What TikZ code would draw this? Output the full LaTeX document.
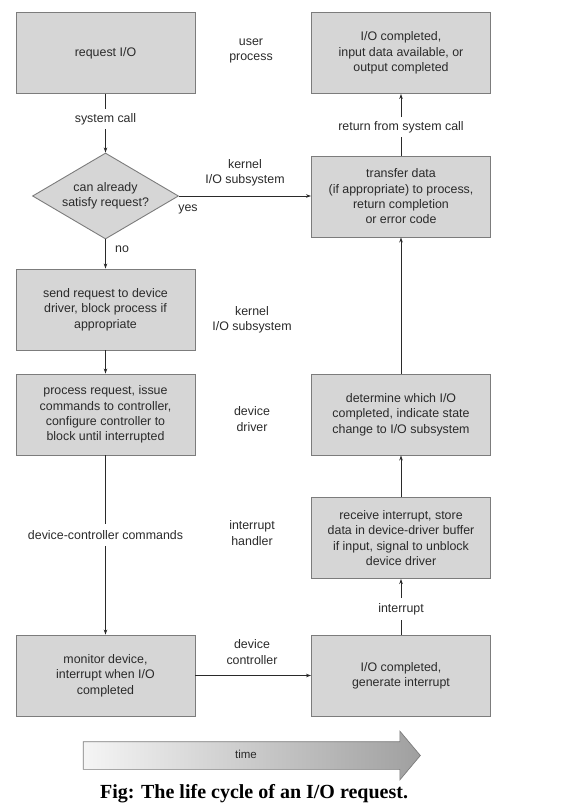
\documentclass[tikz,border=0pt]{standalone}
\usepackage{fontspec}
\setmainfont{Liberation Sans}
\newfontfamily\capfont{Liberation Serif}
\usepackage{tikz}
\usetikzlibrary{positioning,arrows.meta,shapes.geometric,shapes.arrows}
\definecolor{boxcolor}{HTML}{D6D6D6}
\definecolor{edgecolor}{HTML}{7C7C7C}
\definecolor{inkcolor}{HTML}{2A2A2A}

\begin{document}
\begin{tikzpicture}[x=1pt, y=-1pt,
    every node/.style={font=\fontsize{12.4}{15.3}\selectfont, text=inkcolor},
    stagebox/.style={draw=edgecolor, fill=boxcolor, line width=0.9pt, minimum width=179pt, minimum height=81pt, align=center, inner sep=2pt},
    cutlabel/.style={inner xsep=2pt, inner ysep=4pt, align=center},
    layerlabel/.style={align=center, inner sep=1pt},
    flow/.style={draw=inkcolor, line width=0.8pt, -{Stealth[length=5pt,width=3.5pt]}},
    plain/.style={draw=inkcolor, line width=0.8pt}]
    \useasboundingbox (0,0) rectangle (584,810);

    % Left column: request path
    \node[stagebox] (req) at (105.5,53) {request I/O};
    \node[cutlabel] (syscall) at (105.5,119) {system call};
    \node[draw=edgecolor, fill=boxcolor, line width=0.9pt, diamond, aspect=1.7, inner sep=0pt,
          minimum width=146pt, minimum height=86pt, align=center] (check) at (105.5,196)
          {can already\\satisfy request?};
    \node[inner sep=1pt] (yes) at (188,209) {yes};
    \node[inner sep=1pt] (no) at (122,249) {no};
    \node[stagebox] (send) at (105.5,309.5) {send request to device\\driver, block process if\\appropriate};
    \node[stagebox] (proc) at (105.5,414.5) {process request, issue\\commands to controller,\\configure controller to\\block until interrupted};
    \node[cutlabel, inner ysep=6pt] (cmds) at (105.5,535) {device-controller commands};
    \node[stagebox] (mon) at (105.5,675.5) {monitor device,\\interrupt when I/O\\completed};

    % Right column: completion path
    \node[stagebox] (done) at (401,53) {I/O completed,\\input data available, or\\output completed};
    \node[cutlabel] (ret) at (401,127) {return from system call};
    \node[stagebox] (xfer) at (401,196.5) {transfer data\\(if appropriate) to process,\\return completion\\or error code};
    \node[stagebox] (det) at (401,414.5) {determine which I/O\\completed, indicate state\\change to I/O subsystem};
    \node[stagebox] (recv) at (401,538) {receive interrupt, store\\data in device-driver buffer\\if input, signal to unblock\\device driver};
    \node[cutlabel, inner ysep=5pt] (intr) at (401,609) {interrupt};
    \node[stagebox] (gen) at (401,675.5) {I/O completed,\\generate interrupt};

    % Middle column: layer names
    \foreach \name/\xpos/\ypos/\txt in {lyuser/251/51/{user\\process}, lykio/245/173/{kernel\\I/O subsystem},
        lykio2/252/320/{kernel\\I/O subsystem}, lydrv/252/419/{device\\driver},
        lyhnd/252/533/{interrupt\\handler}, lyctl/252/652/{device\\controller}} {
        \node[layerlabel] (\name) at (\xpos,\ypos) {\txt};
    }

    % Connectors
    \draw[plain] (req) -- (syscall);
    \draw[flow] (syscall) -- (check);
    \draw[flow] (check) -- (send);
    \draw[flow] (check.east) -- (xfer.west |- check.east);
    \draw[flow] (send) -- (proc);
    \draw[plain] (proc) -- (cmds);
    \draw[flow] (cmds) -- (mon);
    \draw[flow] (mon) -- (gen);
    \draw[plain] (gen) -- (intr);
    \draw[flow] (intr) -- (recv);
    \draw[flow] (recv) -- (det);
    \draw[flow] (det) -- (xfer);
    \draw[plain] (xfer) -- (ret);
    \draw[flow] (ret) -- (done);

    % Time arrow
    \node[single arrow, draw=edgecolor, line width=0.7pt, left color=gray!8, right color=gray!75,
          minimum height=337pt, minimum width=48pt, single arrow head extend=10.5pt,
          single arrow tip angle=100, text height=8pt, text depth=2pt, inner ysep=8.5pt,
          font=\fontsize{11.5}{13}\selectfont] (time) at (246,755.5) {time};

    % Caption
    \node[font=\capfont\bfseries\fontsize{20}{22}\selectfont, text=black] (caption) at (254,794)
        {Fig: The life cycle of an I/O request.};
\end{tikzpicture}
\end{document}
